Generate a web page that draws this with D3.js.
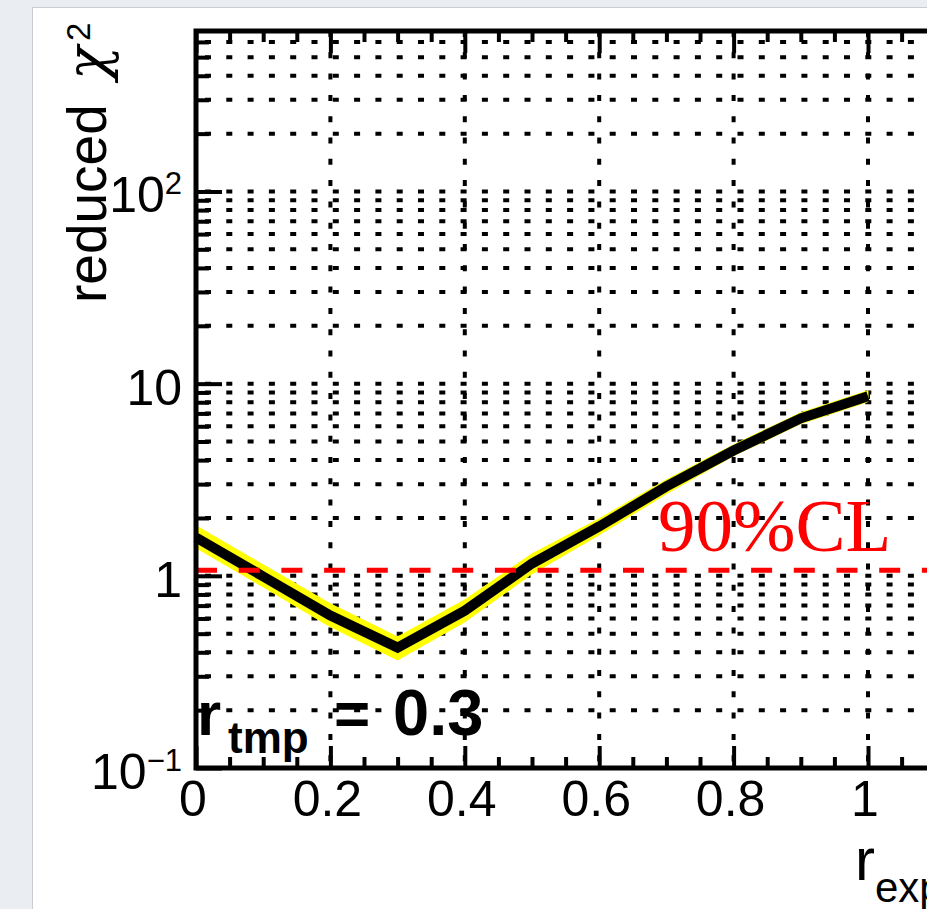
<!DOCTYPE html>
<html>
<head>
<meta charset="utf-8">
<script src="https://cdn.jsdelivr.net/npm/d3@7"></script>
<style>
  html, body { margin: 0; padding: 0; background: #eaedf2; overflow: hidden; }
  svg { display: block; }
  text { font-family: "Liberation Sans", Arial, Helvetica, sans-serif; }
</style>
</head>
<body>
<svg id="chart" width="927" height="909"></svg>
<script>
// Reduced chi-square scan versus r_exp (template ratio r_tmp = 0.3)
const rExp   = [0.0, 0.1, 0.2, 0.3, 0.4, 0.5, 0.6, 0.7, 0.8, 0.9, 1.0];
const chi2   = [1.583, 0.992, 0.621, 0.423, 0.659, 1.159, 1.806, 2.918, 4.49, 6.60, 8.59];
const bandHi = [1.822, 1.141, 0.715, 0.481, 0.750, 1.302, 1.981, 3.162, 4.812, 7.063, 9.194];
const bandLo = [1.399, 0.876, 0.543, 0.365, 0.576, 1.024, 1.635, 2.674, 4.217, 6.188, 8.059];
const clLevel = 1.07;                 // 90% CL threshold
const clLabel = "90%CL";
const xMajorTicks = [0, 0.2, 0.4, 0.6, 0.8, 1.0, 1.2];
const xTickLabels = ["0", "0.2", "0.4", "0.6", "0.8", "1"];
const yDecades    = [0.1, 1, 10, 100];
const yLabelBase  = ["10", "1", "10", "10"];
const yLabelSup   = ["\u22121", "", "", "2"];
const xDomain = [0, 1.2];
const yDomain = [0.1, 684];

const svg = d3.select("#chart");

// page panel
svg.append("rect").attr("x", 32.5).attr("y", 7.5).attr("width", 1000).attr("height", 1000)
  .attr("fill", "#ffffff").attr("stroke", "#c9ccd1").attr("stroke-width", 1);

const padL = 196, padT = 31, padB = 768;
const x = d3.scaleLinear().domain(xDomain).range([padL, padL + 672 * (xDomain[1] - xDomain[0])]);
const y = d3.scaleLog().domain(yDomain).range([padB, padT]);
const padR = x(xDomain[1]);

const plot = svg.append("g");

// grid: horizontal dotted lines at every log tick, vertical at major x ticks
const gridStyle = g => g.attr("stroke", "#000").attr("stroke-width", 4)
  .attr("stroke-dasharray", "6 15.3").attr("fill", "none");
plot.append("g").call(gridStyle).attr("stroke-dashoffset", 12.3)
  .selectAll("line").data(y.ticks().filter(v => v > yDomain[0] && v < yDomain[1]))
  .join("line").attr("x1", padL).attr("x2", padR).attr("y1", d => y(d)).attr("y2", d => y(d));
plot.append("g").call(gridStyle).attr("stroke-dashoffset", 0)
  .selectAll("line").data(xMajorTicks.filter(v => v > xDomain[0] && v < xDomain[1]))
  .join("line").attr("x1", d => x(d)).attr("x2", d => x(d)).attr("y1", padT).attr("y2", padB);

// axis ticks (inward)
const tickAxis = (axis, size, vals, transform) => {
  const g = plot.append("g").attr("transform", transform)
    .call(axis.tickValues(vals).tickSize(size).tickFormat(""));
  g.select(".domain").remove();
  g.selectAll("line").attr("stroke", "#000").attr("stroke-width", 4);
};
const xMinor = d3.range(0, 25).map(i => i * 0.05).filter(v => !xMajorTicks.some(m => Math.abs(m - v) < 1e-9));
tickAxis(d3.axisBottom(x), -22, xMajorTicks, `translate(0,${padB})`);
tickAxis(d3.axisBottom(x), -11, xMinor, `translate(0,${padB})`);
tickAxis(d3.axisTop(x), -22, xMajorTicks, `translate(0,${padT})`);
tickAxis(d3.axisTop(x), -11, xMinor, `translate(0,${padT})`);
const yMinor = y.ticks().filter(v => !yDecades.includes(v));
tickAxis(d3.axisLeft(y), -26, yDecades, `translate(${padL},0)`);
tickAxis(d3.axisLeft(y), -13, yMinor, `translate(${padL},0)`);

// band and curve
const idx = d3.range(rExp.length);
plot.append("path")
  .attr("d", d3.area().x(i => x(rExp[i])).y0(i => y(bandLo[i])).y1(i => y(bandHi[i]))(idx))
  .attr("fill", "#ffff00").attr("stroke", "#ffff00").attr("stroke-width", 1);
plot.append("path")
  .attr("d", d3.line().x(i => x(rExp[i])).y(i => y(chi2[i]))(idx))
  .attr("fill", "none").attr("stroke", "#000").attr("stroke-width", 10)
  .attr("stroke-linejoin", "miter");

// 90% CL line
plot.append("line").attr("x1", x(xDomain[0])).attr("x2", padR)
  .attr("y1", y(clLevel)).attr("y2", y(clLevel))
  .attr("stroke", "#ff0000").attr("stroke-width", 5).attr("stroke-dasharray", "21 21.7");
svg.append("text").attr("x", 658).attr("y", 551)
  .style("font-family", "'Liberation Serif', 'Times New Roman', serif")
  .attr("font-size", 75).attr("fill", "#ff0000").text(clLabel);

// frame
plot.append("rect").attr("x", padL).attr("y", padT)
  .attr("width", padR - padL).attr("height", padB - padT)
  .attr("fill", "none").attr("stroke", "#000").attr("stroke-width", 5);

// tick labels
svg.append("g").selectAll("text").data(xMajorTicks.slice(0, xTickLabels.length)).join("text")
  .attr("x", d => x(d) - 3).attr("y", 816).attr("text-anchor", "middle")
  .attr("font-size", 50).text((d, i) => xTickLabels[i]);
const yl = svg.append("g").selectAll("text").data(yDecades).join("text")
  .attr("x", 182).attr("y", d => y(d) + 21).attr("text-anchor", "end").attr("font-size", 50);
yl.append("tspan").text((d, i) => yLabelBase[i]);
yl.append("tspan").attr("dy", -18).attr("font-size", 31).text((d, i) => yLabelSup[i]);

// y axis title, rotated
svg.append("text").attr("transform", "translate(106,303) rotate(-90)")
  .attr("font-size", 55).text("reduced");
svg.append("text").attr("transform", "translate(106,80) rotate(-90)")
  .style("font-family", "'DejaVu Serif', serif").style("font-style", "italic")
  .attr("font-size", 56).text("\u03c7");
svg.append("text").attr("transform", "translate(90,41) rotate(-90)")
  .attr("font-size", 33).text("2");

// x axis title
const xt = svg.append("text").attr("x", 855).attr("y", 880).attr("font-size", 60);
xt.append("tspan").text("r");
xt.append("tspan").attr("dy", 22).attr("font-size", 42).text("exp");

// template label
const tl = svg.append("g").attr("font-weight", "bold");
tl.append("text").attr("x", 197).attr("y", 735).attr("font-size", 62).text("r");
tl.append("text").attr("x", 228).attr("y", 753).attr("font-size", 44).text("tmp");
tl.append("text").attr("x", 334).attr("y", 735).attr("font-size", 62).text("=");
tl.append("text").attr("x", 393).attr("y", 735).attr("font-size", 65).text("0.3");
</script>
</body>
</html>
